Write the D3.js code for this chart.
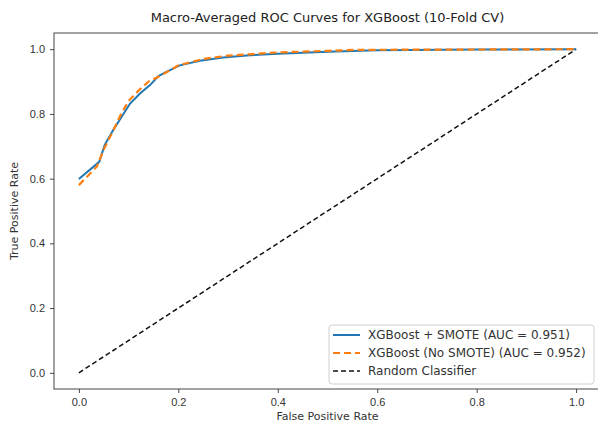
<!DOCTYPE html>
<html lang="en">
  <head>
    <meta charset="UTF-8" />
    <title>Macro-Averaged ROC Curves for XGBoost</title>
    <script src="https://d3js.org/d3.v7.min.js"></script>
    <style>
      body {
        margin: 0;
        background: #fff;
        font-family: "DejaVu Sans", sans-serif;
      }
      svg {
        display: block;
      }
      .tick text {
        font-size: 11px;
        fill: #333;
      }
      .axis-label {
        font-size: 11px;
        fill: #333;
        text-anchor: middle;
      }
      .title {
        font-size: 13px;
        fill: #222;
        text-anchor: middle;
      }
      .legend-text {
        font-size: 12px;
        fill: #333;
      }
    </style>
  </head>
  <body>
    <svg id="chart"></svg>
    <script>
      // ROC points
      const fprSmote = [0, 0.041, 0.052, 0.069, 0.088, 0.103, 0.123, 0.143, 0.16, 0.176, 0.203, 0.243, 0.29, 0.344, 0.4, 0.5, 0.6, 0.8, 1.0];
      const tprSmote = [0.599, 0.652, 0.704, 0.75, 0.796, 0.832, 0.863, 0.889, 0.917, 0.93, 0.95, 0.964, 0.974, 0.981, 0.986, 0.992, 0.997, 0.999, 1.0];

      const fprNoSmote = [0, 0.036, 0.05, 0.068, 0.085, 0.1, 0.12, 0.14, 0.16, 0.18, 0.2, 0.25, 0.3, 0.35, 0.4, 0.5, 0.56, 0.8, 1.0];
      const tprNoSmote = [0.58, 0.637, 0.69, 0.745, 0.8, 0.84, 0.872, 0.9, 0.915, 0.932, 0.95, 0.97, 0.98, 0.985, 0.99, 0.995, 0.998, 0.999, 1.0];

      const xTicks = [0, 0.2, 0.4, 0.6, 0.8, 1.0];
      const yTicks = [0, 0.2, 0.4, 0.6, 0.8, 1.0];

      const legendLabels = [
        "XGBoost + SMOTE (AUC = 0.951)",
        "XGBoost (No SMOTE) (AUC = 0.952)",
        "Random Classifier",
      ];

      const width = 598;
      const height = 428;
      const margin = { top: 33, right: -3, bottom: 39, left: 54 };

      const svg = d3.select("#chart").attr("width", width).attr("height", height);

      const x = d3
        .scaleLinear()
        .domain([-0.05, 1.05])
        .range([margin.left, width - margin.right]);

      const y = d3
        .scaleLinear()
        .domain([-0.05, 1.05])
        .range([height - margin.bottom, margin.top]);

      // frame
      svg
        .append("rect")
        .attr("x", x(-0.05))
        .attr("y", y(1.05))
        .attr("width", x(1.05) - x(-0.05))
        .attr("height", y(-0.05) - y(1.05))
        .attr("fill", "none")
        .attr("stroke", "#444")
        .attr("stroke-width", 1);

      // axes
      const xAxis = svg
        .append("g")
        .attr("transform", `translate(0, ${y(-0.05)})`)
        .call(d3.axisBottom(x).tickValues(xTicks).tickFormat(d3.format(".1f")).tickSize(4).tickPadding(5));
      const yAxis = svg
        .append("g")
        .attr("transform", `translate(${x(-0.05)}, 0)`)
        .call(d3.axisLeft(y).tickValues(yTicks).tickFormat(d3.format(".1f")).tickSize(4).tickPadding(5));
      [xAxis, yAxis].forEach((g) => {
        g.select(".domain").remove();
        g.selectAll(".tick line").attr("stroke", "#444");
      });

      svg
        .append("text")
        .attr("class", "axis-label")
        .attr("x", x(0.5))
        .attr("y", height - 8)
        .text("False Positive Rate");

      svg
        .append("text")
        .attr("class", "axis-label")
        .attr("transform", "rotate(-90)")
        .attr("x", -y(0.5))
        .attr("y", 18)
        .text("True Positive Rate");

      svg
        .append("text")
        .attr("class", "title")
        .attr("x", x(0.5))
        .attr("y", 22)
        .text("Macro-Averaged ROC Curves for XGBoost (10-Fold CV)");

      const line = d3
        .line()
        .x((d) => x(d[0]))
        .y((d) => y(d[1]));

      const plot = svg.append("g");

      // diagonal
      plot
        .append("path")
        .datum([[0, 0], [1, 1]])
        .attr("d", line)
        .attr("fill", "none")
        .attr("stroke", "#111")
        .attr("stroke-width", 1.5)
        .attr("stroke-dasharray", "5,3");

      plot
        .append("path")
        .datum(d3.zip(fprSmote, tprSmote))
        .attr("d", line)
        .attr("fill", "none")
        .attr("stroke", "#1f77b4")
        .attr("stroke-width", 2);

      plot
        .append("path")
        .datum(d3.zip(fprNoSmote, tprNoSmote))
        .attr("d", line)
        .attr("fill", "none")
        .attr("stroke", "#ff7f0e")
        .attr("stroke-width", 2.2)
        .attr("stroke-dasharray", "7,4");

      // legend
      const lg = svg.append("g").attr("transform", "translate(329, 325)");
      lg.append("rect")
        .attr("width", 265)
        .attr("height", 59)
        .attr("rx", 3)
        .attr("fill", "rgba(255,255,255,0.85)")
        .attr("stroke", "#d0d0d0");

      const styles = [
        { color: "#1f77b4", dash: null, w: 2 },
        { color: "#ff7f0e", dash: "7,4", w: 2.2 },
        { color: "#111", dash: "5,3", w: 1.5 },
      ];
      legendLabels.forEach((label, i) => {
        const yy = 10 + i * 18;
        lg.append("line")
          .attr("x1", 4)
          .attr("x2", 31)
          .attr("y1", yy)
          .attr("y2", yy)
          .attr("stroke", styles[i].color)
          .attr("stroke-width", styles[i].w)
          .attr("stroke-dasharray", styles[i].dash);
        lg.append("text")
          .attr("class", "legend-text")
          .attr("x", 39)
          .attr("y", yy + 4)
          .text(label);
      });
    </script>
  </body>
</html>
